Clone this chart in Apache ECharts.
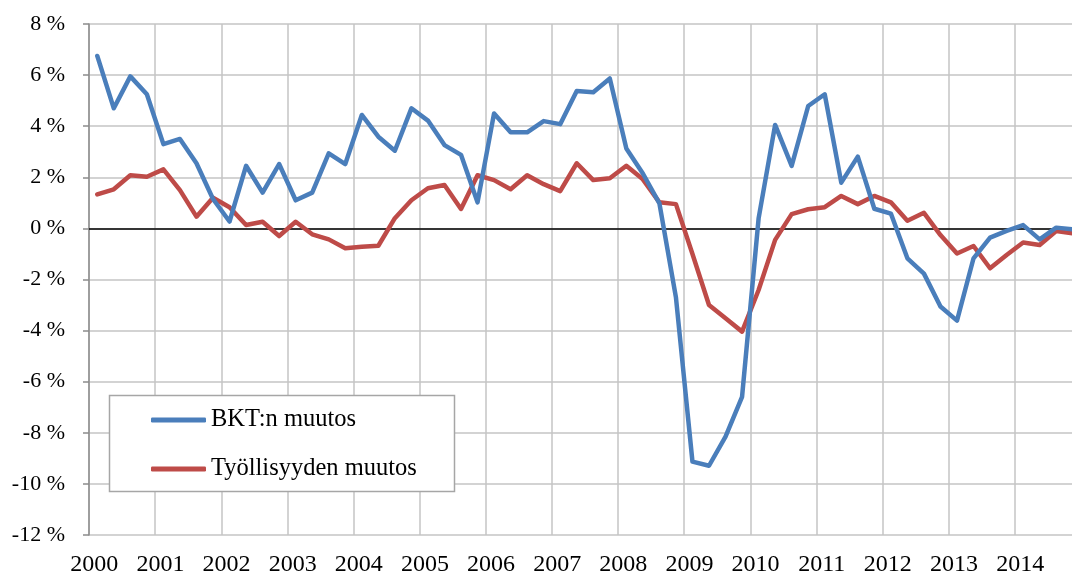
<!DOCTYPE html>
<html>
<head>
<meta charset="utf-8">
<script src="https://cdn.jsdelivr.net/npm/echarts@6/dist/echarts.min.js"></script>
<style>
  html, body { margin: 0; padding: 0; background: #fff; }
  #chart { width: 1072px; height: 572px; }
</style>
</head>
<body>
<div id="chart"></div>
<script>
// vuosineljännekset 2000-2014
var years = ['2000','2001','2002','2003','2004','2005','2006','2007',
             '2008','2009','2010','2011','2012','2013','2014'];
var quarters = ['Q1','Q2','Q3','Q4'];

// BKT:n muutos, %
var bktData = [
  6.75, 4.7, 5.95, 5.25,   3.3, 3.5, 2.55, 1.15,   0.27, 2.45, 1.4, 2.52,
  1.1, 1.4, 2.94, 2.52,    4.44, 3.59, 3.04, 4.7,  4.22, 3.26, 2.88, 1.02,
  4.5, 3.76, 3.76, 4.2,    4.08, 5.38, 5.33, 5.87, 3.13, 2.15, 0.98, -2.7,
  -9.13, -9.29, -8.15, -6.59, 0.39, 4.05, 2.45, 4.79, 5.25, 1.79, 2.81, 0.77,
  0.58, -1.17, -1.77, -3.06, -3.61, -1.17, -0.36, -0.1, 0.13, -0.43, 0.03, -0.04
];

// Työllisyyden muutos, %
var tyoData = [
  1.33, 1.53, 2.08, 2.02,  2.31, 1.5, 0.46, 1.2,   0.83, 0.13, 0.26, -0.3,
  0.26, -0.23, -0.43, -0.78, -0.72, -0.68, 0.4, 1.1, 1.57, 1.7, 0.76, 2.08,
  1.89, 1.53, 2.08, 1.73,  1.46, 2.55, 1.89, 1.96,  2.45, 1.92, 1.02, 0.95,
  -1.0, -3.0, -3.52, -4.04, -2.41, -0.45, 0.56, 0.75, 0.83, 1.27, 0.95, 1.27,
  1.02, 0.3, 0.61, -0.26,  -0.98, -0.69, -1.56, -1.04, -0.55, -0.65, -0.1, -0.19
];

var seriesNames = ['BKT:n muutos', 'Työllisyyden muutos'];
var colors = ['#4a7ebb', '#be4b48'];

var categories = [];
years.forEach(function(y){
  quarters.forEach(function(q){ categories.push(y + ' ' + q); });
});

var FONT = "'Liberation Serif', 'Times New Roman', serif";

var chart = echarts.init(document.getElementById('chart'));
chart.setOption({
  animation: false,
  textStyle: { fontFamily: FONT },
  grid: { left: 89, top: 24, bottom: 37, right: -9, containLabel: false, outerBoundsMode: 'none' },
  xAxis: {
    type: 'category',
    data: categories,
    boundaryGap: true,
    axisLine: { show: false, onZero: false },
    axisTick: { show: false, interval: 3 },
    axisLabel: {
      interval: 3,
      margin: 18,
      fontSize: 24,
      color: '#000',
      fontFamily: FONT,
      padding: [0, 6, 0, 0],
      formatter: function(v){ return v.slice(0, 4); }
    },
    splitLine: { show: true, interval: 3, lineStyle: { color: '#c4c4c4', width: 1.5 } }
  },
  yAxis: {
    type: 'value',
    min: -12,
    max: 8,
    interval: 2,
    axisLine: { show: true, lineStyle: { color: '#8c8c8c', width: 1.5 } },
    axisTick: { show: true, inside: false, length: 6, lineStyle: { color: '#8c8c8c', width: 1.5 } },
    axisLabel: {
      margin: 24,
      fontSize: 22,
      color: '#000',
      fontFamily: FONT,
      formatter: function(v){ return v + ' %'; }
    },
    splitLine: { show: true, lineStyle: { color: '#c4c4c4', width: 1.5 } }
  },
  legend: {
    orient: 'vertical',
    left: 151,
    top: 407.5,
    icon: 'roundRect',
    itemWidth: 55,
    itemHeight: 5,
    itemGap: 24,
    padding: 0,
    z: 6,
    data: seriesNames,
    textStyle: { fontSize: 24.5, color: '#000', fontFamily: FONT }
  },
  graphic: [{
    type: 'rect',
    z: 5,
    shape: { x: 109.5, y: 395.5, width: 345, height: 96 },
    style: { fill: '#fff', stroke: '#a6a6a6', lineWidth: 1.5 }
  }],
  series: [
    {
      name: seriesNames[0],
      type: 'line',
      data: bktData,
      symbol: 'none',
      smooth: false,
      z: 3,
      lineStyle: { color: colors[0], width: 4.5, cap: 'round', join: 'round' },
      itemStyle: { color: colors[0] },
      markLine: {
        silent: true,
        symbol: 'none',
        label: { show: false },
        lineStyle: { color: '#000', width: 1.5, type: 'solid' },
        data: [{ yAxis: 0 }],
        z: 1
      }
    },
    {
      name: seriesNames[1],
      type: 'line',
      data: tyoData,
      symbol: 'none',
      smooth: false,
      z: 2,
      lineStyle: { color: colors[1], width: 4.5, cap: 'round', join: 'round' },
      itemStyle: { color: colors[1] }
    }
  ]
});
</script>
</body>
</html>
